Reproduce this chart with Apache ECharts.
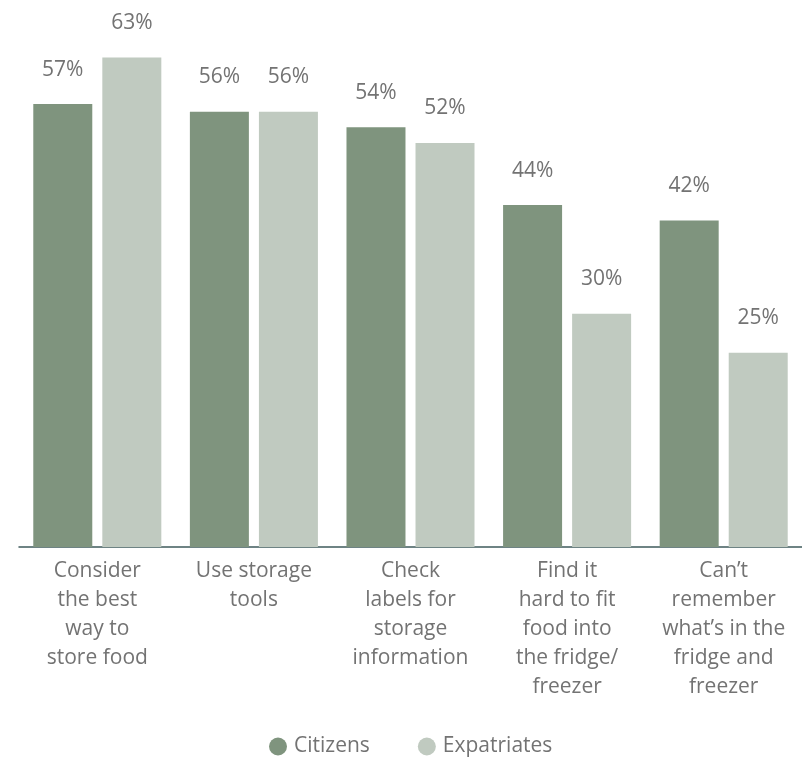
<!DOCTYPE html>
<html>
<head>
<meta charset="utf-8">
<script src="https://cdn.jsdelivr.net/npm/echarts@6/dist/echarts.min.js"></script>
<style>
  html, body { margin: 0; padding: 0; background: #ffffff; }
  #chart { width: 802px; height: 760px; }
</style>
</head>
<body>
<div id="chart"></div>
<script>
// Food storage behaviours, share of respondents (%)
const categories = [
  'Consider\nthe best\nway to\nstore food',
  'Use storage\ntools',
  'Check\nlabels for\nstorage\ninformation',
  'Find it\nhard to fit\nfood into\nthe fridge/\nfreezer',
  'Can\u2019t\nremember\nwhat\u2019s in the\nfridge and\nfreezer'
];
const citizens = [57, 56, 54, 44, 42];
const expatriates = [63, 56, 52, 30, 25];
const seriesNames = ['Citizens', 'Expatriates'];

const FONT = 'Open Sans';
const TEXT = '#737373';

const chart = echarts.init(document.getElementById('chart'), null, { renderer: 'canvas' });

const labelStyle = {
  show: true,
  position: 'top',
  distance: 24,
  formatter: '{c}%',
  fontFamily: FONT,
  fontSize: 21,
  color: TEXT
};

chart.setOption({
  animation: false,
  textStyle: { fontFamily: FONT },
  grid: { left: 19, right: -5, top: 3, bottom: 213, containLabel: false },
  legend: {
    bottom: -2,
    left: 264,
    icon: 'circle',
    itemWidth: 18,
    itemHeight: 18,
    itemGap: 48,
    textStyle: { fontFamily: FONT, fontSize: 21, color: TEXT, padding: [0, 0, 0, 2] },
    data: seriesNames
  },
  xAxis: {
    type: 'category',
    data: categories,
    axisLine: { show: true, lineStyle: { color: '#3f5b5c', width: 1.5 } },
    axisTick: { show: false },
    axisLabel: {
      interval: 0,
      margin: 10,
      fontFamily: FONT,
      fontSize: 21,
      lineHeight: 29,
      color: TEXT,
      align: 'center'
    }
  },
  yAxis: {
    type: 'value',
    min: 0,
    max: 70,
    show: false,
    splitLine: { show: false }
  },
  series: [
    {
      name: seriesNames[0],
      type: 'bar',
      data: citizens,
      barWidth: 59,
      barGap: '17%',
      itemStyle: { color: '#7f947e' },
      label: labelStyle
    },
    {
      name: seriesNames[1],
      type: 'bar',
      data: expatriates,
      barWidth: 59,
      barGap: '17%',
      itemStyle: { color: '#c0cac0' },
      label: labelStyle
    }
  ]
});
</script>
</body>
</html>
